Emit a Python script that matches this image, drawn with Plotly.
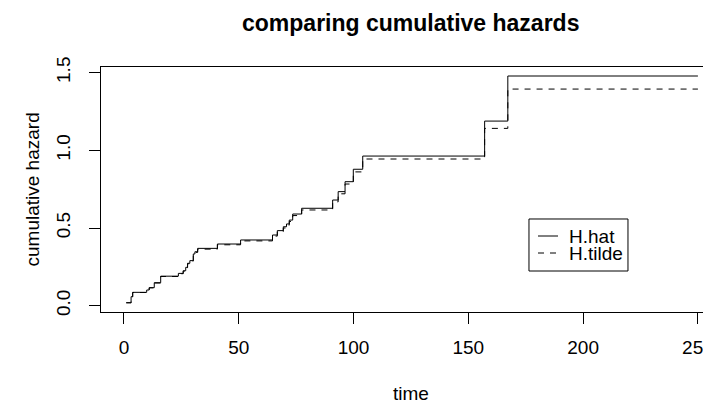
import plotly.graph_objects as go

# Step-function data
times = [1.0, 3.1, 3.8, 9.9, 11.0, 13.2, 16.0, 23.7, 25.8, 26.9, 27.7, 28.7, 30.2, 30.9,
         32.1, 40.7, 50.8, 64.7, 66.8, 69.4, 70.8, 72.0, 73.5, 77.4, 90.9, 93.3, 96.3,
         99.9, 104.0, 157.1, 167.2, 250.0]
H_hat = [0.019, 0.058, 0.086, 0.101, 0.116, 0.148, 0.190, 0.208, 0.225, 0.247, 0.273,
         0.290, 0.333, 0.347, 0.369, 0.397, 0.423, 0.455, 0.483, 0.508, 0.526, 0.551,
         0.590, 0.627, 0.680, 0.734, 0.798, 0.878, 0.963, 1.188, 1.478, 1.478]
H_tilde = [0.019, 0.057, 0.085, 0.100, 0.115, 0.146, 0.188, 0.206, 0.222, 0.244, 0.270,
           0.287, 0.329, 0.343, 0.364, 0.392, 0.417, 0.448, 0.476, 0.500, 0.518, 0.542,
           0.580, 0.616, 0.668, 0.720, 0.783, 0.861, 0.944, 1.141, 1.394, 1.394]

series_names = ["H.hat", "H.tilde"]
x_ticks = [0, 50, 100, 150, 200, 250]
y_ticks = [0.0, 0.5, 1.0, 1.5]
y_tick_labels = ["0.0", "0.5", "1.0", "1.5"]

FONT = "Liberation Sans, Arial, Helvetica, sans-serif"
DASH = "6px,6px"

fig = go.Figure()
fig.add_trace(go.Scatter(x=times, y=H_hat, mode="lines", name=series_names[0],
                         showlegend=False,
                         line=dict(color="black", width=1, shape="hv")))
fig.add_trace(go.Scatter(x=times, y=H_tilde, mode="lines", name=series_names[1],
                         showlegend=False,
                         line=dict(color="black", width=1, shape="hv", dash=DASH)))

# R-style legend box (decoration, in paper coordinates)
leg_box = dict(x0=0.7016, x1=0.8639, y0=0.1673, y1=0.3796)
leg_rows = [0.3102, 0.2408]
leg_line_x = (0.7164, 0.7492)
leg_text_x = 0.7639

shapes = [dict(type="rect", xref="paper", yref="paper", **leg_box,
               line=dict(color="black", width=1), fillcolor="white", layer="above")]
annotations = []
for name, row, dash in zip(series_names, leg_rows, ["solid", DASH]):
    shapes.append(dict(type="line", xref="paper", yref="paper",
                       x0=leg_line_x[0], x1=leg_line_x[1], y0=row, y1=row,
                       line=dict(color="black", width=1, dash=dash), layer="above"))
    annotations.append(dict(text=name, xref="paper", yref="paper", x=leg_text_x, y=row,
                            xanchor="left", yanchor="middle", showarrow=False,
                            font=dict(size=19)))

annotations += [
    dict(text="<b>comparing cumulative hazards</b>", xref="paper", yref="paper",
         x=0.508, y=1.1795, xanchor="center", yanchor="middle", showarrow=False,
         font=dict(size=23)),
    dict(text="time", xref="paper", yref="paper", x=0.508, y=-0.334,
         xanchor="center", yanchor="middle", showarrow=False, font=dict(size=19)),
    dict(text="cumulative hazard", xref="paper", yref="paper", x=-0.1115, y=0.5,
         xanchor="center", yanchor="middle", textangle=-90, showarrow=False,
         font=dict(size=19)),
]

fig.update_layout(
    width=703, height=395,
    margin=dict(l=93, r=0, t=59, b=91, autoexpand=False),
    paper_bgcolor="white", plot_bgcolor="white",
    font=dict(family=FONT, size=19, color="black"),
    showlegend=False,
    xaxis=dict(range=[-10.0, 255.7], tickvals=x_ticks, ticks="outside", ticklen=11,
               tickcolor="black", showline=True, linecolor="black", linewidth=1,
               mirror=True, showgrid=False, zeroline=False, ticklabelstandoff=7,
               ticklabeloverflow="allow"),
    yaxis=dict(range=[-0.0405, 1.536], tickvals=y_ticks, ticktext=y_tick_labels,
               ticks="outside", ticklen=11, tickcolor="black", tickangle=-90,
               showline=True, linecolor="black", linewidth=1, mirror=False,
               showgrid=False, zeroline=False, ticklabelstandoff=11),
    shapes=shapes,
    annotations=annotations,
)

fig.write_html("out.html")
